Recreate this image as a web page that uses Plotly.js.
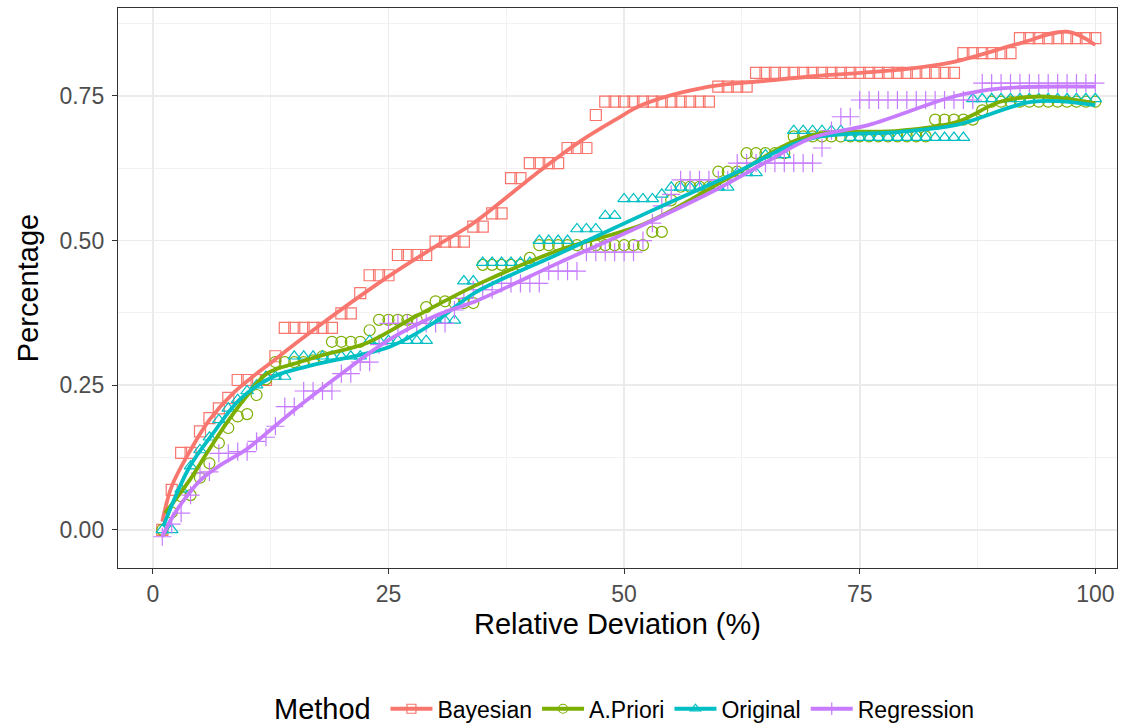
<!DOCTYPE html>
<html>
<head>
<meta charset="utf-8">
<script src="https://cdn.plot.ly/plotly-3.0.1.min.js"></script>
<style>html,body{margin:0;padding:0;background:#fff;}#chart{width:1127px;height:724px;}</style>
</head>
<body>
<div id="chart"></div>
<script>
// Relative deviation (%) 1..100
const deviation = Array.from({length: 100}, (_, i) => i + 1);

const methods = ["Bayesian", "A.Priori", "Original", "Regression"];
const legendTitle = "Method";

// Step values (cumulative percentage), x = 1..100
const bayesian = [
  0.000, 0.069, 0.133, 0.133, 0.170, 0.193, 0.210, 0.228, 0.259, 0.259,
  0.259, 0.259, 0.300, 0.349, 0.349, 0.349, 0.349, 0.349, 0.349, 0.374,
  0.374, 0.409, 0.440, 0.440, 0.440, 0.475, 0.475, 0.475, 0.475, 0.498,
  0.498, 0.498, 0.498, 0.524, 0.524, 0.547, 0.547, 0.608, 0.608, 0.634,
  0.634, 0.634, 0.634, 0.660, 0.660, 0.660, 0.717, 0.740, 0.740, 0.740,
  0.740, 0.740, 0.740, 0.740, 0.740, 0.740, 0.740, 0.740, 0.740, 0.766,
  0.766, 0.766, 0.766, 0.790, 0.790, 0.790, 0.790, 0.790, 0.790, 0.790,
  0.790, 0.790, 0.790, 0.790, 0.790, 0.790, 0.790, 0.790, 0.790, 0.790,
  0.790, 0.790, 0.790, 0.790, 0.790, 0.824, 0.824, 0.824, 0.824, 0.824,
  0.824, 0.850, 0.850, 0.850, 0.850, 0.850, 0.850, 0.850, 0.850, 0.850
];
const apriori = [
  0.000, 0.030, 0.058, 0.060, 0.090, 0.115, 0.150, 0.176, 0.196, 0.200,
  0.233, 0.260, 0.290, 0.290, 0.290, 0.290, 0.293, 0.300, 0.325, 0.325,
  0.325, 0.325, 0.345, 0.363, 0.363, 0.363, 0.363, 0.363, 0.385, 0.395,
  0.395, 0.392, 0.392, 0.392, 0.458, 0.458, 0.458, 0.458, 0.458, 0.470,
  0.492, 0.492, 0.492, 0.492, 0.492, 0.492, 0.492, 0.492, 0.492, 0.492,
  0.492, 0.492, 0.515, 0.515, 0.570, 0.593, 0.593, 0.593, 0.593, 0.619,
  0.619, 0.619, 0.651, 0.651, 0.651, 0.651, 0.651, 0.680, 0.680, 0.680,
  0.680, 0.680, 0.680, 0.680, 0.680, 0.680, 0.680, 0.680, 0.680, 0.680,
  0.680, 0.680, 0.709, 0.709, 0.709, 0.709, 0.709, 0.725, 0.740, 0.740,
  0.740, 0.740, 0.740, 0.740, 0.740, 0.740, 0.740, 0.740, 0.740, 0.740
];
const original = [
  0.000, 0.000, 0.070, 0.110, 0.138, 0.160, 0.190, 0.210, 0.225, 0.240,
  0.250, 0.265, 0.265, 0.265, 0.300, 0.300, 0.300, 0.300, 0.300, 0.300,
  0.300, 0.300, 0.327, 0.327, 0.327, 0.327, 0.327, 0.327, 0.327, 0.362,
  0.362, 0.362, 0.430, 0.430, 0.462, 0.462, 0.462, 0.462, 0.462, 0.462,
  0.500, 0.500, 0.500, 0.500, 0.520, 0.520, 0.520, 0.543, 0.543, 0.572,
  0.572, 0.572, 0.572, 0.580, 0.592, 0.592, 0.592, 0.592, 0.592, 0.592,
  0.592, 0.617, 0.617, 0.617, 0.648, 0.648, 0.648, 0.690, 0.690, 0.690,
  0.690, 0.690, 0.690, 0.678, 0.678, 0.678, 0.678, 0.678, 0.678, 0.678,
  0.678, 0.678, 0.678, 0.678, 0.678, 0.678, 0.745, 0.745, 0.745, 0.745,
  0.745, 0.745, 0.745, 0.745, 0.745, 0.745, 0.745, 0.745, 0.745, 0.745
];
const regression = [
  -0.012, 0.010, 0.029, 0.060, 0.098, 0.100, 0.132, 0.132, 0.135, 0.135,
  0.153, 0.160, 0.179, 0.213, 0.213, 0.240, 0.240, 0.240, 0.240, 0.270,
  0.270, 0.290, 0.290, 0.320, 0.357, 0.357, 0.357, 0.357, 0.357, 0.357,
  0.357, 0.380, 0.400, 0.415, 0.415, 0.415, 0.426, 0.426, 0.426, 0.426,
  0.426, 0.447, 0.447, 0.447, 0.447, 0.480, 0.480, 0.480, 0.480, 0.480,
  0.480, 0.500, 0.530, 0.560, 0.580, 0.605, 0.605, 0.605, 0.605, 0.605,
  0.605, 0.634, 0.634, 0.634, 0.634, 0.634, 0.634, 0.634, 0.634, 0.634,
  0.660, 0.690, 0.714, 0.714, 0.743, 0.743, 0.743, 0.743, 0.743, 0.743,
  0.743, 0.743, 0.743, 0.743, 0.743, 0.743, 0.743, 0.772, 0.772, 0.772,
  0.772, 0.772, 0.772, 0.772, 0.772, 0.772, 0.772, 0.772, 0.772, 0.772
];

// Smoothed trend lines
const bayesSmoothX = [1, 2, 4, 6, 8.5, 13, 18, 25, 30, 34, 40.7, 45.3, 49, 52, 59, 65, 70, 79, 85, 92, 97, 100];
const bayesSmoothY = [0.014, 0.075, 0.138, 0.19, 0.236, 0.295, 0.357, 0.438, 0.49, 0.53, 0.616, 0.671, 0.708, 0.735, 0.766, 0.776, 0.784, 0.795, 0.809, 0.841, 0.861, 0.838];
const aprioriSmoothX = [1.3, 3.9, 5.7, 7.8, 9.9, 12.1, 15.6, 18, 22.7, 28, 34.7, 43.2, 52.3, 61.3, 69.5, 79.3, 85.3, 89.9, 94.2, 100];
const aprioriSmoothY = [0.029, 0.086, 0.132, 0.184, 0.23, 0.27, 0.29, 0.302, 0.323, 0.37, 0.426, 0.484, 0.53, 0.61, 0.68, 0.69, 0.705, 0.74, 0.749, 0.737];
const originalSmoothX = [1.1, 3.9, 6.4, 9.2, 12.8, 16.5, 25.2, 30, 34.2, 43.2, 52.3, 61.3, 69.5, 79.3, 85.3, 93.4, 100];
const originalSmoothY = [0.006, 0.109, 0.167, 0.225, 0.265, 0.283, 0.317, 0.36, 0.41, 0.478, 0.547, 0.613, 0.675, 0.688, 0.70, 0.74, 0.734];
const regressionSmoothX = [1, 2, 3, 5, 7, 10, 13, 16, 21, 25, 30, 34.5, 43, 52, 60, 65, 70, 76, 85, 90, 100];
const regressionSmoothY = [-0.012, 0.02, 0.045, 0.085, 0.11, 0.14, 0.18, 0.22, 0.282, 0.328, 0.37, 0.397, 0.461, 0.527, 0.59, 0.635, 0.678, 0.70, 0.749, 0.763, 0.766];

const colors = ["#F8766D", "#7CAE00", "#00BFC4", "#C77CFF"];
const symbols = ["square-open", "circle-open", "triangle-up-open", "cross-thin-open"];
const pointSeries = [bayesian, apriori, original, regression];
const smoothSeries = [
  [bayesSmoothX, bayesSmoothY],
  [aprioriSmoothX, aprioriSmoothY],
  [originalSmoothX, originalSmoothY],
  [regressionSmoothX, regressionSmoothY]
];

const traces = [];
// points layer
methods.forEach((m, i) => {
  traces.push({
    x: deviation, y: pointSeries[i], type: "scatter", mode: "markers",
    name: m, legendgroup: m, showlegend: false,
    marker: {symbol: symbols[i], size: i === 3 ? 13 : 11, color: colors[i],
             line: {color: colors[i], width: 1.2}},
    hoverinfo: "x+y+name"
  });
});
// smooth layer
methods.forEach((m, i) => {
  traces.push({
    x: smoothSeries[i][0], y: smoothSeries[i][1], type: "scatter", mode: "lines",
    name: m, legendgroup: m, showlegend: false,
    line: {color: colors[i], width: 3.8, shape: "spline", smoothing: 1},
    hoverinfo: "skip"
  });
});
// legend entries (line + marker)
methods.forEach((m, i) => {
  traces.push({
    x: [null], y: [null], type: "scatter", mode: "lines+markers",
    name: m, legendgroup: m, showlegend: true,
    line: {color: colors[i], width: 3.8},
    marker: {symbol: symbols[i], size: 9, color: colors[i], line: {color: colors[i], width: 1.2}}
  });
});

const axisFont = {family: "Liberation Sans, Arial, sans-serif", size: 23, color: "#4d4d4d"};
const titleFont = {family: "Liberation Sans, Arial, sans-serif", size: 29, color: "#000"};

const layout = {
  width: 1127, height: 724,
  margin: {l: 118, r: 10, t: 8, b: 156},
  paper_bgcolor: "#fff", plot_bgcolor: "#fff",
  font: {family: "Liberation Sans, Arial, sans-serif"},
  xaxis: {
    range: [-3.7, 102.3], tickvals: [0, 25, 50, 75, 100],
    ticks: "outside", ticklen: 5, tickwidth: 1, tickcolor: "#333",
    tickfont: axisFont, automargin: false,
    showgrid: true, gridcolor: "#ebebeb", gridwidth: 1.6,
    minor: {dtick: 12.5, tick0: 0, showgrid: true, gridcolor: "#f2f2f2", gridwidth: 1},
    zeroline: false, showline: true, mirror: true, linecolor: "#333", linewidth: 1.2,
    title: {text: "Relative Deviation (%)", font: titleFont, standoff: 8}
  },
  yaxis: {
    range: [-0.066, 0.902], tickvals: [0, 0.25, 0.5, 0.75], tickformat: ".2f",
    ticks: "outside", ticklen: 5, tickwidth: 1, tickcolor: "#333",
    tickfont: axisFont, automargin: false, ticklabelstandoff: 3,
    showgrid: true, gridcolor: "#ebebeb", gridwidth: 1.6,
    minor: {dtick: 0.125, tick0: 0, showgrid: true, gridcolor: "#f2f2f2", gridwidth: 1},
    zeroline: false, showline: true, mirror: true, linecolor: "#333", linewidth: 1.2,
    title: {text: "Percentage", font: titleFont, standoff: 12}
  },
  showlegend: true,
  legend: {
    orientation: "h", x: 0.565, xanchor: "center",
    yref: "container", y: 0.021, yanchor: "middle",
    font: {size: 23, color: "#000"}, itemwidth: 42, tracegroupgap: 0,
    bgcolor: "rgba(0,0,0,0)"
  },
  annotations: [{
    text: legendTitle, xref: "paper", x: 0.255, xanchor: "right",
    yref: "paper", y: (568 - 709) / 560, yanchor: "middle",
    showarrow: false, font: {size: 29, color: "#000"}
  }]
};

Plotly.newPlot("chart", traces, layout, {displayModeBar: false, staticPlot: true});
</script>
</body>
</html>
